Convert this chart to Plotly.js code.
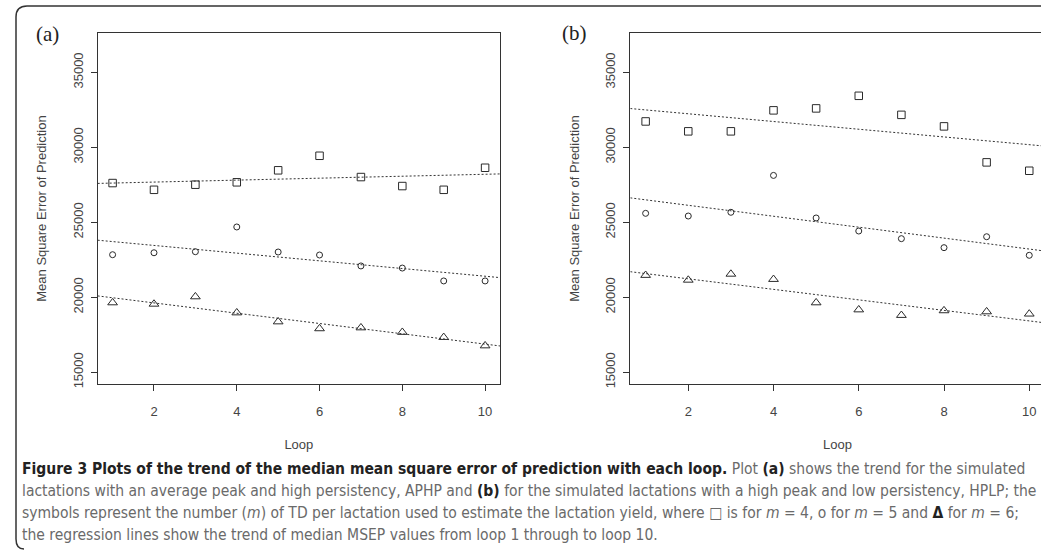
<!DOCTYPE html>
<html>
<head>
<meta charset="utf-8">
<script src="https://cdn.plot.ly/plotly-3.0.1.min.js"></script>
<style>
html,body{margin:0;padding:0;overflow:hidden;background:#fff;}
#chart{width:1046px;height:551px;}
</style>
</head>
<body>
<div id="chart"></div>
<script>
// ---- data ----
const loops = [1,2,3,4,5,6,7,8,9,10];
// Panel (a) APHP
const a_m4 = [27620,27170,27510,27670,28470,29440,28020,27420,27170,28640];
const a_m5 = [22840,22970,23040,24690,23020,22820,22090,21950,21090,21090];
const a_m6 = [19640,19550,20040,18970,18370,17910,17970,17670,17330,16770];
// Panel (b) HPLP
const b_m4 = [31730,31070,31070,32470,32600,33440,32170,31400,29000,28440];
const b_m5 = [25600,25420,25670,28130,25290,24420,23910,23310,24040,22800];
const b_m6 = [21470,21150,21550,21200,19640,19170,18800,19110,19040,18890];
const yTicks = [15000,20000,25000,30000,35000];
const yTickText = ['15000','20000','25000','30000','35000'];
const xTicks = [2,4,6,8,10];
const panelLabels = ['(a)','(b)'];
const xTitle = 'Loop';
const yTitle = 'Mean Square Error of Prediction';

// ---- geometry ----
const W = 1046, H = 551;
const fx = p => p / W;
const fy = p => 1 - p / H;
const xRange = [0.64, 10.36];
const yRange = [14215, 37630];

function fit(x, y) {
  const n = x.length;
  const mx = x.reduce((s,v)=>s+v,0)/n, my = y.reduce((s,v)=>s+v,0)/n;
  let sxy=0, sxx=0;
  for (let i=0;i<n;i++){ sxy += (x[i]-mx)*(y[i]-my); sxx += (x[i]-mx)*(x[i]-mx); }
  const b = sxy/sxx, a = my - b*mx;
  return xRange.map(v => a + b*v);
}

const ink = '#2a2a2a';
const markerDefs = [
  {sym:'square-open', size:7.5},
  {sym:'circle-open', size:6},
  {sym:'triangle-up-open', size:8.5}
];
const traces = [];
[[a_m4,a_m5,a_m6,'x','y'],[b_m4,b_m5,b_m6,'x2','y2']].forEach(([s4,s5,s6,xa,ya]) => {
  [s4,s5,s6].forEach((s,i) => {
    traces.push({x:loops, y:s, xaxis:xa, yaxis:ya, mode:'markers', type:'scatter',
      marker:{symbol:markerDefs[i].sym, size:markerDefs[i].size, color:ink, line:{color:ink,width:1}},
      showlegend:false, hoverinfo:'x+y'});
    traces.push({x:xRange, y:fit(loops, s), xaxis:xa, yaxis:ya, mode:'lines', type:'scatter',
      line:{color:'#333', width:1, dash:'2px,2px'}, showlegend:false, hoverinfo:'skip'});
  });
});

const axFont = {family:"'Liberation Sans', Arial, Helvetica, sans-serif", size:13, color:'#444'};
function xax(dom){ return {domain:dom, range:xRange, tickvals:xTicks, ticks:'outside', ticklen:6, tickcolor:'#333',
  showline:true, mirror:true, linecolor:'#333', linewidth:1, showgrid:false, zeroline:false,
  tickfont:axFont, ticklabelstandoff:9,
  title:{text:xTitle, font:axFont, standoff:22}}; }
function yax(){ return {domain:[fy(384), fy(33)], range:yRange, tickvals:yTicks, ticktext:yTickText, ticks:'outside', ticklen:6, tickcolor:'#333',
  showline:true, mirror:true, linecolor:'#333', linewidth:1, showgrid:false, zeroline:false,
  tickfont:axFont, tickangle:-90, ticklabelstandoff:3,
  title:{text:yTitle, font:axFont, standoff:20}}; }

const capFont = {family:"'Liberation Sans Narrow', 'Arial Narrow', 'DejaVu Sans Condensed', sans-serif", size:15.5, color:'#6a6a6a'};
const B = t => '<b><span style="color:#222">'+t+'</span></b>';
const captionLines = [
  B('Figure 3 Plots of the trend of the median mean square error of prediction with each loop.')+' Plot '+B('(a)')+' shows the trend for the simulated',
  'lactations with an average peak and high persistency, APHP and '+B('(b)')+' for the simulated lactations with a high peak and low persistency, HPLP; the',
  'symbols represent the number (<i>m</i>) of TD per lactation used to estimate the lactation yield, where \u25A1 is for <i>m</i> = 4, o for <i>m</i> = 5 and '+B('\u0394')+' for <i>m</i> = 6;',
  'the regression lines show the trend of median MSEP values from loop 1 through to loop 10.'
];
const capY = [469, 491, 513, 535];
const annotations = captionLines.map((t,i) => ({text:t, xref:'paper', yref:'paper', x:fx(20), y:fy(capY[i]),
  xanchor:'left', yanchor:'middle', showarrow:false, font:capFont, align:'left'}));
annotations.push({text:panelLabels[0], xref:'paper', yref:'paper', x:fx(47), y:fy(34), xanchor:'center', yanchor:'middle',
  showarrow:false, font:{family:"'Liberation Serif', 'Times New Roman', serif", size:21, color:'#222'}});
annotations.push({text:panelLabels[1], xref:'paper', yref:'paper', x:fx(574), y:fy(33), xanchor:'center', yanchor:'middle',
  showarrow:false, font:{family:"'Liberation Serif', 'Times New Roman', serif", size:21, color:'#222'}});

const P = (x,y) => fx(x)+','+fy(y);
const framePath = 'M '+P(1046,6)+' L '+P(27,6)+' Q '+P(16,6)+' '+P(16,17)+' L '+P(16,539)+' Q '+P(16,549)+' '+P(24,549);

const layout = {
  width:W, height:H, margin:{l:0,r:0,t:0,b:0}, paper_bgcolor:'#fff', plot_bgcolor:'#fff',
  xaxis: xax([fx(97.7), fx(500)]),
  yaxis: Object.assign(yax(), {anchor:'x'}),
  xaxis2: Object.assign(xax([fx(630.3), fx(1044.6)]), {anchor:'y2'}),
  yaxis2: Object.assign(yax(), {anchor:'x2'}),
  annotations: annotations,
  shapes: [{type:'path', xref:'paper', yref:'paper', path:framePath, line:{color:'#333', width:1.5}}]
};
layout.xaxis.anchor = 'y';

Plotly.newPlot('chart', traces, layout, {displayModeBar:false, staticPlot:true});
</script>
</body>
</html>
